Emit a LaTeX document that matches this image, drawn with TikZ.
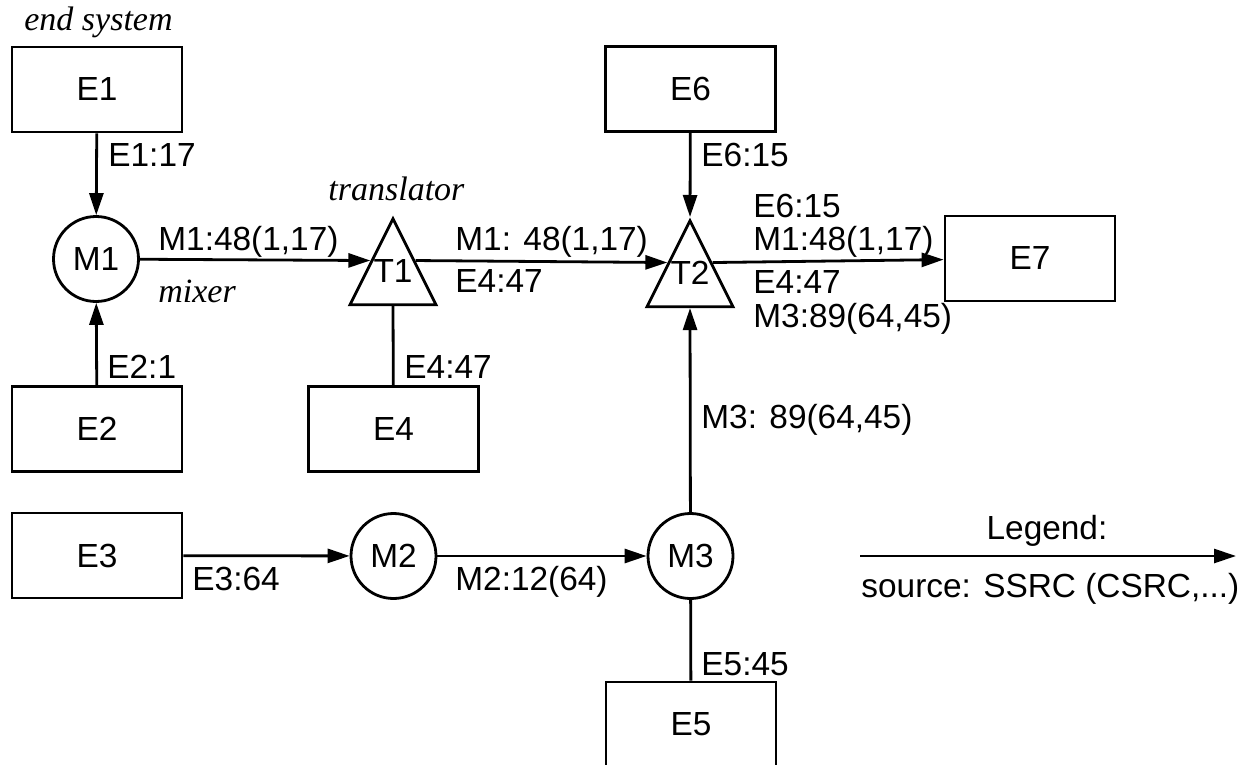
\documentclass[tikz,border=0pt]{standalone}
\usepackage{fontspec}
\setmainfont{Liberation Sans}
\newfontfamily\notefont{Liberation Serif}
\usetikzlibrary{arrows.meta, shapes.geometric}

\begin{document}
\begin{tikzpicture}[x=0.5pt, y=-0.5pt, line width=1.4pt,
  font=\fontsize{16.7}{20}\selectfont,
  >={Triangle[length=11pt, width=7pt]},
  endsys/.style={draw, rectangle, minimum width=85pt, minimum height=42.5pt, inner sep=0pt},
  mixer/.style={draw, circle, minimum size=42.5pt, inner sep=0pt},
  trans/.style={draw, isosceles triangle, shape border rotate=90, isosceles triangle stretches,
    minimum width=43pt, minimum height=43pt, inner sep=0pt},
  note/.style={font=\notefont\itshape\fontsize{17}{20}\selectfont, anchor=base west, inner sep=0pt},
  ssrc/.style={anchor=base west, inner sep=0pt}]
  \useasboundingbox (0,0) rectangle (1247,765);

  % end systems
  \node[endsys] (E1) at (97,89.5) {E1};
  \node[endsys] (E2) at (97,429) {E2};
  \node[endsys] (E3) at (97,555.5) {E3};
  \node[endsys] (E4) at (393.5,429) {E4};
  \node[endsys] (E5) at (691,724.5) {E5};
  \node[endsys] (E6) at (690.5,89) {E6};
  \node[endsys] (E7) at (1030,258.5) {E7};

  % mixers
  \node[mixer] (M1) at (96,259) {M1};
  \node[mixer] (M2) at (393.5,556) {M2};
  \node[mixer] (M3) at (690.5,556) {M3};

  % translators
  \node[trans, anchor=apex] (T1) at (393,215) {\smash{\raisebox{4pt}{T1}}};
  \node[trans, anchor=apex] (T2) at (690,217) {\smash{\raisebox{4pt}{T2}}};

  % flows
  \draw[->] (E1) -- (M1);
  \draw[->] (E2) -- (M1);
  \draw[->] (M1) -- (T1.left side);
  \draw (E4) -- (T1.lower side);
  \draw[->] (T1.right side) -- (T2.left side);
  \draw[->] (E6) -- (T2.apex);
  \draw[->] (M3) -- (T2.lower side);
  \draw[->] (T2.right side) -- (E7);
  \draw[->] (E3) -- (M2);
  \draw[->] (M2) -- (M3);
  \draw (E5) -- (M3);

  % notes
  \node[note] (lend) at (23,31) {end system};
  \node[note] (lmix) at (157,302) {mixer};
  \node[note] (ltrans) at (327,200) {translator};

  % source labels
  \node[ssrc] (lE1) at (107,166) {E1:17};
  \node[ssrc] (lE2) at (106,378) {E2:1};
  \node[ssrc] (lM1) at (157,250) {M1:48(1,17)};
  \node[ssrc] (lE4) at (403,378) {E4:47};
  \node[ssrc] (lT1a) at (454,250) {M1: 48(1,17)};
  \node[ssrc] (lT1b) at (454,292) {E4:47};
  \node[ssrc] (lE6) at (700,166) {E6:15};
  \node[ssrc] (lT2a) at (752,217) {E6:15};
  \node[ssrc] (lT2b) at (752,250) {M1:48(1,17)};
  \node[ssrc] (lT2c) at (752,293) {E4:47};
  \node[ssrc] (lT2d) at (752,327) {M3:89(64,45)};
  \node[ssrc] (lM3) at (700,428) {M3: 89(64,45)};
  \node[ssrc] (lE3) at (191,590) {E3:64};
  \node[ssrc] (lM2) at (454,590) {M2:12(64)};
  \node[ssrc] (lE5) at (700,675) {E5:45};

  % legend
  \coordinate (legA) at (860,556);
  \coordinate (legB) at (1236,556);
  \draw[->] (legA) -- (legB);
  \node[anchor=base, inner sep=0pt] (legtitle) at (1047,539) {Legend:};
  \node[ssrc] (legtext) at (860,597) {source: SSRC (CSRC,...)};
\end{tikzpicture}
\end{document}
